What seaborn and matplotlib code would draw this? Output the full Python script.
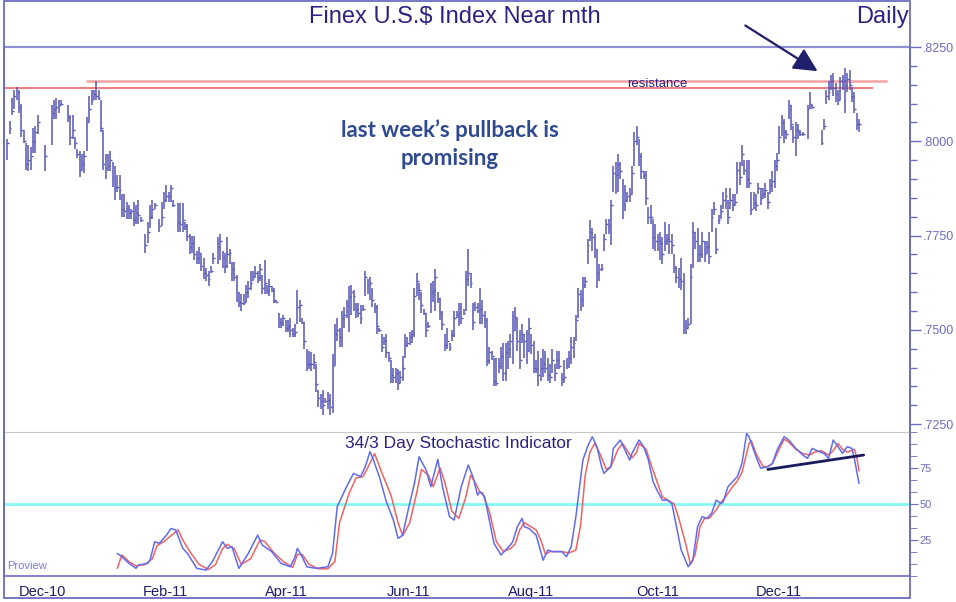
import numpy as np
import pandas as pd
import matplotlib
matplotlib.use("Agg")
import matplotlib.pyplot as plt
import seaborn as sns
from matplotlib.patches import Rectangle
from matplotlib.ticker import MultipleLocator, FuncFormatter, FixedLocator

sns.set_style("white")
plt.rcParams['font.family'] = ['Liberation Sans', 'DejaVu Sans']

# daily bars (price in 1/10000, e.g. 8000 = .8000), None = no trading day drawn
highs = [
    8005, 8055, 8115, 8135, 8145, 8135, 8100, 8030, 7995, 7990, 7985, 8035, 8040, 8070, None, None,
    7990, None, None,
    8095, 8110, 8115, 8110, 8110, None, None,
    8095, 8070, 8070, 8010, 7980, 7975, 7965, 7975, 8065, 8120, 8135, 8135, 8160, 8135, 8110, 8030,
    7965, 7965, 7975, 7945, 7935, 7910, 7910, 7860, 7860, 7840, 7830, 7820, 7840, 7830, 7845, 7800, None,
    7755, 7785, 7830, 7845, 7835, None,
    7795, 7840, 7865, 7885, 7865, 7885, 7845, None,
    7835, 7835, 7835, 7785, 7780, 7755, 7750, 7750, 7710, 7720, 7700, 7690, 7665, 7655, 7670, 7705, None,
    7745, 7755, 7710, 7705, 7745, 7715, 7680, 7680, 7645, 7600,
    7595, 7595, 7620, 7630, 7655, 7655, 7670, 7655, 7675, 7645,
    7685, 7620, 7635, 7615, 7610, 7580, 7545, 7530, 7540, 7525,
    7525, 7530, 7505, 7515, 7605, 7580, 7530, 7520, 7450, 7445,
    7440, 7435, 7410, 7340, 7330, 7340, 7320, 7335, 7330, 7435,
    7515, 7530, 7505, 7550, 7560, 7580, 7615, 7620, 7605, 7570,
    7570, 7565, 7565, 7655, 7635, 7640, 7610, 7570, 7565, 7505,
    7490, 7480, 7490, 7440, 7420, 7400, 7400, 7395, 7390, 7430,
    7490, 7480, 7495, 7500, 7610, 7650, 7625, 7600, 7555, 7545,
    7520, 7625, 7630, 7660, 7600, 7585, 7550, 7490, 7505, 7465,
    7500, 7550, 7550, 7570, 7570, 7555, 7655, 7715, 7650, 7570,
    7575, 7570, 7610, 7580, 7550, 7530, 7455, 7445, 7425, 7425,
    7425, 7455, 7465, 7465, 7470, 7490, 7550, 7560, 7530, 7500,
    7515, 7490, 7500, 7530, 7490, 7470, 7420, 7445, 7425, 7450,
    7445, 7425, 7410, 7450, 7410, 7445, 7445, 7385, 7420, 7425,
    7445, 7480, 7480, 7540, 7610, 7605, 7640, 7640, 7740, 7790,
    7770, 7755, 7715, 7675, 7675, 7755, 7795, 7795, 7845, 7935,
    7945, 7965, 7945, 7900, 7885, 7865, 7875, 7935, 8025, 8040,
    8005, 7970, 7920, 7920, 7825, 7830, 7795, 7780, 7755, 7760,
    7745, 7785, 7755, 7780, 7755, 7700, 7670, 7665, 7690, 7650,
    7525, 7530, 7675, 7785, 7760, 7770, 7725, 7760, 7735, 7735,
    7760, 7820, 7840, 7770, 7805, 7830, 7865, 7875, 7845, 7875,
    7860, 7860, 7945, 7945, 7990, 7950, 7950, 7950, 7865, 7865,
    7860, 7890, 7875, 7875, 7890, 7865, 7900, 7920, 7950, 7970,
    8040, 8070, 8060, 8030, 8110, 8095, 8040, 8050, 8045, 8030,
    8025, None,
    8095, 8130, 8095, None, None, None,
    8030, 8060, 8135, 8160, 8175, 8180, 8155, 8135, 8170, 8175, 8195, 8180, 8190, 8145, 8130, 8075, 8060,
]
lows = [
    7950, 8020, 8070, 8085, 8110, 8075, 8010, 7995, 7925, 7920, 7925, 7970, 7970, 8020, None, None,
    7920, None, None,
    7990, 8060, 8060, 8075, 8095, None, None,
    8050, 7990, 8005, 7980, 7955, 7905, 7925, 7915, 7975, 8050, 8095, 8110, 8110, 8110, 8025, 7925,
    7900, 7920, 7920, 7880, 7845, 7865, 7845, 7800, 7800, 7795, 7795, 7795, 7775, 7780, 7780, 7785, None,
    7705, 7730, 7770, 7795, 7820, None,
    7760, 7775, 7820, 7840, 7840, 7840, 7825, None,
    7760, 7760, 7760, 7765, 7735, 7700, 7705, 7685, 7675, 7675, 7655, 7635, 7630, 7615, 7650, 7675, None,
    7675, 7685, 7665, 7650, 7665, 7675, 7630, 7630, 7575, 7560,
    7550, 7565, 7570, 7585, 7605, 7630, 7640, 7625, 7630, 7595,
    7595, 7595, 7590, 7600, 7570, 7570, 7505, 7505, 7510, 7495,
    7495, 7480, 7480, 7480, 7515, 7520, 7515, 7450, 7390, 7395,
    7390, 7395, 7335, 7295, 7290, 7275, 7305, 7290, 7275, 7280,
    7405, 7470, 7455, 7455, 7505, 7530, 7495, 7540, 7550, 7530,
    7535, 7515, 7550, 7590, 7595, 7580, 7560, 7545, 7490, 7495,
    7440, 7460, 7425, 7415, 7360, 7360, 7360, 7340, 7360, 7365,
    7425, 7455, 7460, 7465, 7480, 7590, 7580, 7545, 7540, 7480,
    7505, 7545, 7575, 7550, 7570, 7525, 7500, 7445, 7450, 7445,
    7470, 7480, 7530, 7510, 7515, 7540, 7550, 7615, 7610, 7500,
    7550, 7545, 7515, 7515, 7505, 7405, 7410, 7420, 7350, 7350,
    7385, 7395, 7365, 7365, 7395, 7425, 7410, 7500, 7445, 7395,
    7465, 7425, 7410, 7445, 7435, 7385, 7385, 7350, 7365, 7375,
    7385, 7365, 7360, 7385, 7365, 7395, 7395, 7350, 7360, 7395,
    7400, 7410, 7425, 7470, 7530, 7550, 7560, 7610, 7675, 7735,
    7710, 7690, 7610, 7630, 7655, 7710, 7755, 7755, 7725, 7865,
    7860, 7865, 7900, 7795, 7815, 7840, 7840, 7860, 7935, 7990,
    7935, 7900, 7900, 7830, 7780, 7780, 7715, 7710, 7710, 7685,
    7675, 7710, 7725, 7700, 7700, 7650, 7625, 7610, 7605, 7490,
    7490, 7505, 7515, 7665, 7715, 7680, 7680, 7690, 7680, 7700,
    7675, 7760, 7805, 7700, 7780, 7795, 7820, 7820, 7780, 7820,
    7815, 7830, 7860, 7885, 7935, 7910, 7875, 7875, 7805, 7820,
    7815, 7860, 7830, 7850, 7850, 7820, 7860, 7865, 7875, 7920,
    7965, 8015, 7995, 8005, 8060, 8030, 7995, 7960, 8005, 8015,
    8015, None,
    8005, 8085, 8085, None, None, None,
    7990, 8030, 8100, 8110, 8135, 8120, 8105, 8095, 8110, 8135, 8075, 8130, 8135, 8105, 8075, 8030, 8025,
]
closes = [
    7995, 8035, 8080, 8120, 8130, 8090, 8030, 8000, 7940, 7950, 7960, 8000, 8025, 8050, None, None,
    7960, None, None,
    8075, 8085, 8090, 8095, 8100, None, None,
    8065, 8010, 8030, 7995, 7965, 7925, 7940, 7960, 8050, 8085, 8110, 8125, 8120, 8115, 8035, 7940,
    7930, 7935, 7950, 7905, 7880, 7880, 7870, 7820, 7815, 7820, 7810, 7815, 7790, 7810, 7805, 7790, None,
    7725, 7760, 7800, 7820, 7830, None,
    7775, 7800, 7845, 7855, 7855, 7875, 7830, None,
    7785, 7780, 7790, 7775, 7750, 7720, 7730, 7700, 7690, 7705, 7670, 7650, 7645, 7635, 7655, 7690, None,
    7720, 7735, 7690, 7670, 7700, 7705, 7660, 7640, 7600, 7575,
    7570, 7570, 7600, 7610, 7625, 7640, 7650, 7640, 7660, 7610,
    7625, 7605, 7615, 7605, 7580, 7575, 7520, 7515, 7530, 7505,
    7510, 7500, 7490, 7495, 7560, 7565, 7520, 7470, 7410, 7410,
    7410, 7415, 7355, 7320, 7310, 7300, 7310, 7315, 7295, 7405,
    7490, 7500, 7480, 7530, 7540, 7565, 7590, 7600, 7590, 7555,
    7545, 7530, 7555, 7640, 7620, 7625, 7580, 7560, 7510, 7500,
    7455, 7470, 7440, 7425, 7380, 7375, 7385, 7360, 7375, 7400,
    7460, 7465, 7480, 7490, 7590, 7630, 7605, 7565, 7545, 7500,
    7510, 7600, 7605, 7640, 7585, 7545, 7515, 7460, 7470, 7455,
    7485, 7530, 7540, 7545, 7530, 7545, 7635, 7650, 7625, 7520,
    7560, 7550, 7555, 7540, 7525, 7420, 7440, 7430, 7365, 7360,
    7405, 7430, 7385, 7440, 7450, 7470, 7500, 7535, 7470, 7420,
    7490, 7470, 7445, 7505, 7460, 7400, 7395, 7380, 7400, 7410,
    7400, 7380, 7375, 7420, 7385, 7420, 7405, 7370, 7375, 7410,
    7425, 7455, 7465, 7525, 7595, 7580, 7620, 7630, 7725, 7760,
    7745, 7715, 7650, 7660, 7665, 7740, 7780, 7775, 7830, 7915,
    7910, 7940, 7920, 7830, 7845, 7855, 7860, 7915, 8000, 8010,
    7960, 7920, 7910, 7850, 7800, 7800, 7745, 7735, 7735, 7730,
    7700, 7735, 7740, 7735, 7725, 7665, 7640, 7635, 7630, 7510,
    7505, 7515, 7640, 7760, 7735, 7700, 7700, 7735, 7700, 7720,
    7695, 7800, 7820, 7715, 7790, 7815, 7845, 7855, 7800, 7845,
    7830, 7840, 7925, 7905, 7965, 7925, 7900, 7890, 7820, 7835,
    7830, 7875, 7850, 7860, 7870, 7840, 7885, 7895, 7935, 7950,
    8010, 8050, 8025, 8020, 8095, 8045, 8010, 8030, 8025, 8020,
    8020, None,
    8085, 8100, 8090, None, None, None,
    7995, 8040, 8120, 8130, 8160, 8140, 8125, 8110, 8160, 8160, 8150, 8165, 8150, 8120, 8085, 8045, 8045,
]

# 34/3 stochastic (bar number, value)
k_days = [47, 49, 52, 55, 56, 60, 61, 63, 65, 68, 70, 72, 75, 77, 81, 85, 88, 92, 94, 96,
          99, 103, 107, 109, 113, 117, 121, 123, 124, 126, 128, 132, 137, 139, 141, 145, 148, 151, 153, 155,
          156, 159, 162, 165, 167, 169, 171, 174, 176, 179, 181, 184, 186, 189, 191, 194, 197, 199, 201, 202,
          204, 206, 208, 211, 213, 215, 216, 218, 220, 221, 223, 226, 227, 229, 231, 233, 234, 237, 239, 241,
          243, 246, 248, 250, 252, 254, 255, 258, 259, 262, 264, 266, 267, 270, 272, 274, 276, 278, 280, 282,
          284, 286, 288, 291, 293, 295, 297, 299, 301, 303, 305, 306, 308, 310, 312, 314, 316, 317, 320, 322,
          325, 327, 329, 332, 334, 337, 340, 342, 344, 347, 349, 351, 353, 355, 357, 359, 361, 362, 364]
k_vals = [15.7, 13.4, 8.8, 5.3, 7.6, 8.8, 11, 23.8, 22.7, 28.4, 33, 31.9, 19.2, 15.7, 5.3, 4.1, 11, 23.8, 19.2, 20.3,
          5.3, 15.7, 28.4, 21.5, 16.9, 8.8, 6.4, 13.4, 19.2, 13.4, 6.4, 5.3, 6.4, 15.7, 48.1, 62, 71.3, 69, 75.9, 86.3,
          82.8, 69, 51.6, 38.9, 26.1, 28.4, 43.5, 64.3, 82.8, 73.6, 62, 81, 62, 41.2, 38.9, 62, 77, 69, 56.2, 58.5,
          55.1, 38.9, 22.7, 14.6, 18, 21.5, 23.8, 34.2, 40, 34.2, 33, 28.4, 22.7, 11, 18, 16.9, 16.9, 16.9, 13.4, 20.3,
          41.2, 80.5, 89.8, 96.7, 89.8, 75.9, 71.3, 75.9, 88.6, 94.4, 87.5, 80.5, 85.2, 94.4, 89.8, 80.5, 65.5, 58.5, 52.7, 52.7,
          50.4, 34.2, 18, 6.4, 11, 34.2, 41.2, 40, 43.5, 52.7, 50.4, 51.6, 62, 65.5, 69, 78.2, 99, 96.7, 82.8, 74.8,
          75.9, 78.2, 87.5, 96.7, 94.4, 88.6, 84, 81.7, 88.6, 86.3, 85.2, 81.7, 94.4, 89.8, 85.2, 89.8, 88.6, 81.7, 64.3]
d_days = [47, 49, 52, 55, 59, 62, 64, 67, 70, 73, 75, 78, 82, 86, 89, 92, 94, 97, 100, 104,
          108, 110, 114, 118, 122, 124, 126, 129, 133, 137, 140, 142, 146, 149, 152, 154, 157, 160, 164, 167,
          169, 172, 175, 177, 180, 182, 185, 187, 190, 193, 196, 198, 200, 202, 203, 206, 209, 212, 215, 217,
          219, 221, 223, 226, 228, 230, 232, 234, 237, 240, 243, 245, 247, 249, 251, 253, 256, 258, 261, 263,
          265, 267, 269, 270, 273, 275, 278, 280, 282, 285, 287, 290, 292, 294, 296, 298, 300, 303, 305, 307,
          310, 312, 314, 317, 318, 320, 323, 325, 327, 329, 332, 334, 337, 340, 343, 345, 348, 351, 353, 355,
          357, 359, 362, 363, 364]
d_vals = [5.3, 14.6, 10, 7, 8, 12, 21, 24, 28, 32, 25, 17, 8, 4.5, 8, 19, 22, 19, 8, 12,
          25, 24, 16, 10, 6, 15, 15, 8, 5, 5, 10, 37, 57, 68, 69, 75, 85, 72, 56, 37,
          28, 37, 58, 74, 70, 62, 75, 65, 45, 40, 55, 70, 65, 58, 58, 45, 24, 17, 19, 22,
          32, 37, 35, 32, 25, 15, 17, 17, 17, 16, 18, 35, 70, 86, 92, 86, 74, 76, 88, 92,
          87, 82, 86, 92, 88, 78, 64, 55, 53, 50, 40, 22, 8, 15, 34, 40, 40, 46, 51, 55,
          62, 66, 72, 92, 94, 85, 76, 76, 78, 85, 95, 93, 88, 85, 84, 86, 87, 84, 87, 92,
          88, 86, 88, 83, 73]

# x axis: first bar of every second month
month_start_bar = [5, 58, 110, 162, 214, 269, 320, 374]
month_labels = ["Dec-10", "Feb-11", "Apr-11", "Jun-11", "Aug-11", "Oct-11", "Dec-11", ""]

# annotations
resistance_upper = 8161
resistance_lower = 8140
trend_days = [325, 366]
trend_vals = [74, 84]

NAVY = '#2b2285'
AXIS = '#6c6cc4'
BAR = '#5656b6'

df = pd.DataFrame({"high": highs, "low": lows, "close": closes}, dtype=float)
df["day"] = np.arange(len(df))
bars = df.dropna()

fig = plt.figure(figsize=(9.56, 6.02), dpi=100)
ax = fig.add_axes([4/956, 1-432/602, 906/956, 385/602])
ax2 = fig.add_axes([4/956, 1-576/602, 906/956, 144/602])
xlim = (-1.4, 385.8)

# price panel - the bar chart
ax.hlines(resistance_upper, 33.6, 376, color='#f5a3a3', lw=1.8, zorder=1)
ax.hlines(resistance_lower, xlim[0], 370, color='#f07474', lw=1.3, zorder=1)
ax.vlines(bars["day"], bars["low"], bars["high"], color=BAR, lw=1.1, zorder=2)
ax.hlines(bars["close"], bars["day"], bars["day"] + 0.8, color=BAR, lw=1.0, zorder=2)
ax.text(278, 8153, "resistance", fontsize=9.5, color=NAVY, ha='center', va='center')
ax.text(189, 7992, "last week\u2019s pullback is\npromising", fontsize=16, fontweight='bold',
        family=['Lato', 'DejaVu Sans'], color='#2f4a92', ha='center', va='center', linespacing=1.4)
ax.annotate('', xy=(347.3, 8182), xytext=(314.4, 8311), annotation_clip=False,
            arrowprops=dict(arrowstyle='-|>', color='#1f1f6b', lw=1.6, mutation_scale=36))

ax.set_xlim(xlim)
ax.set_ylim(7229, 8250)
ax.yaxis.tick_right()
ax.yaxis.set_major_locator(MultipleLocator(250))
ax.yaxis.set_minor_locator(MultipleLocator(50))
ax.yaxis.set_major_formatter(FuncFormatter(lambda v, p: f".{int(round(v))}"))
ax.tick_params(axis='y', which='major', direction='out', length=8, width=1, colors=AXIS, labelsize=9, pad=1)
ax.tick_params(axis='y', which='minor', direction='out', length=5, width=1, colors=AXIS)
ax.set_xticks([])
for side in ['left', 'right']:
    ax.spines[side].set_color(AXIS)
    ax.spines[side].set_linewidth(1.2)
ax.spines['top'].set_color('#8f8fd0')
ax.spines['top'].set_linewidth(1.6)
ax.spines['bottom'].set_visible(False)

# stochastic panel
ax2.axhline(50, color='#86f7f7', lw=2)
sns.lineplot(x=d_days, y=d_vals, ax=ax2, color='#f26262', lw=1.1)
sns.lineplot(x=k_days, y=k_vals, ax=ax2, color='#5f6cf0', lw=1.1)
ax2.plot(trend_days, trend_vals, color='#1a1a5e', lw=2)
ax2.text(193, 92, "34/3 Day Stochastic Indicator", fontsize=12.5, color=NAVY, ha='center', va='center')
ax2.text(0, 7, "Proview", fontsize=8, color='#7b7be0', ha='left', va='center')

ax2.set_xlim(xlim)
ax2.set_ylim(0, 100)
ax2.set_xlabel("")
ax2.set_ylabel("")
ax2.yaxis.tick_right()
ax2.yaxis.set_major_locator(FixedLocator([25, 50, 75]))
ax2.yaxis.set_minor_locator(MultipleLocator(25 / 3))
ax2.tick_params(axis='y', which='major', direction='out', length=6, colors=AXIS, labelsize=8, pad=1)
ax2.tick_params(axis='y', which='minor', direction='out', length=5, colors=AXIS)
ax2.set_xticks(month_start_bar)
ax2.set_xticklabels(month_labels, ha='left')
ax2.tick_params(axis='x', direction='out', length=5, colors=AXIS, labelcolor='#1e1e6a', labelsize=10.5, pad=1.5)
for side in ['left', 'right', 'bottom']:
    ax2.spines[side].set_color(AXIS)
    ax2.spines[side].set_linewidth(1.2)
ax2.spines['top'].set_color('#c8c8c8')

# titles and outer frame
fig.text(455/956, 1-17/602, "Finex U.S.$ Index Near mth", fontsize=17, color=NAVY, ha='center', va='center')
fig.text(909/956, 1-17/602, "Daily", fontsize=17, color=NAVY, ha='right', va='center')
fig.patches.append(Rectangle((4/956, 4/602), 906/956, 597/602, transform=fig.transFigure,
                             fill=False, edgecolor=AXIS, lw=1.3))

fig.savefig("out.png", dpi=100)
